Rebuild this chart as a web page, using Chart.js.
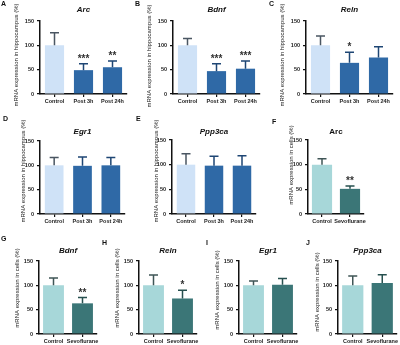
<!DOCTYPE html>
<html>
<head>
<meta charset="utf-8">
<script src="https://cdn.jsdelivr.net/npm/chart.js@4.4.1/dist/chart.umd.min.js"></script>
<style>
  body { margin: 0; width: 400px; height: 345px; background: #fff; position: relative; overflow: hidden; }
  canvas { position: absolute; }
</style>
</head>
<body>
<script>
// groups and axis ticks
const hippoGroups = ['Control', 'Post 3h', 'Post 24h'];
const cellGroups = ['Control', 'Sevoflurane'];
const yTicks = [0, 50, 100, 150];

// hippocampus (A-E)
const arcHippo = [100, 49, 55];
const arcHippoErr = [26, 13, 13];
const arcHippoSig = ['', '***', '**'];
const bdnfHippo = [100, 47, 52];
const bdnfHippoErr = [14, 15, 16];
const bdnfHippoSig = ['', '***', '***'];
const relnHippo = [100, 64, 75];
const relnHippoErr = [19, 22, 22];
const relnHippoSig = ['', '*', ''];
const egr1Hippo = [100, 99, 100];
const egr1HippoErr = [16, 18, 16];
const ppp3caHippo = [100, 98, 98];
const ppp3caHippoErr = [22, 19, 20];

// cells (F-J)
const arcCells = [100, 51];
const arcCellsErr = [12, 6];
const arcCellsSig = ['', '**'];
const bdnfCells = [100, 63];
const bdnfCellsErr = [15, 12];
const bdnfCellsSig = ['', '**'];
const relnCells = [100, 73];
const relnCellsErr = [21, 17];
const relnCellsSig = ['', '*'];
const egr1Cells = [100, 101];
const egr1CellsErr = [9, 13];
const ppp3caCells = [100, 105];
const ppp3caCellsErr = [19, 17];

const hippoTitle = 'mRNA expression in hippocampus (%)';
const cellTitle = 'mRNA expression in cells (%)';

const hippoColors = ['#cfe2f7', '#2f69a6', '#2f69a6'];
const hippoErrColors = ['#4a5662', '#1e4674', '#1e4674'];
const cellColors = ['#a7d7d9', '#3b7677'];
const cellErrColors = ['#3f5556', '#27504f'];

const FONT = '"Liberation Sans", Arial, sans-serif';
Chart.defaults.font.family = FONT;

// error bars, stars, y tick labels, panel letter, title and y title
const panelDecor = {
    id: 'panelDecor',
    afterDraw(chart, args, opts) {
        const ctx = chart.ctx;
        const y = chart.scales.y;
        const values = chart.data.datasets[0].data;
        const meta = chart.getDatasetMeta(0);
        ctx.save();
        meta.data.forEach(function (bar, i) {
            const top = y.getPixelForValue(values[i]);
            const capY = y.getPixelForValue(values[i] + opts.errors[i]);
            ctx.strokeStyle = opts.errColors[i];
            ctx.lineWidth = 1.5;
            ctx.beginPath();
            ctx.moveTo(bar.x, top);
            ctx.lineTo(bar.x, capY);
            ctx.moveTo(bar.x - 4.5, capY);
            ctx.lineTo(bar.x + 4.5, capY);
            ctx.stroke();
            if (opts.stars && opts.stars[i]) {
                ctx.fillStyle = '#333';
                ctx.font = 'bold 10px ' + FONT;
                ctx.textAlign = 'center';
                ctx.textBaseline = 'alphabetic';
                ctx.fillText(opts.stars[i], bar.x, capY - 2);
            }
        });
        // y tick labels
        ctx.fillStyle = '#222';
        ctx.font = 'bold 5.5px ' + FONT;
        ctx.textAlign = 'right';
        ctx.textBaseline = 'middle';
        yTicks.forEach(function (v) {
            ctx.fillText(String(v), y.right - 6, y.getPixelForValue(v));
        });
        const area = chart.chartArea;
        // title
        ctx.fillStyle = '#111';
        ctx.font = (opts.italic ? 'italic ' : '') + 'bold 8px ' + FONT;
        ctx.textAlign = 'center';
        ctx.textBaseline = 'middle';
        ctx.fillText(opts.title, (area.left + area.right) / 2, opts.titleY);
        // panel letter
        ctx.font = 'bold 7px ' + FONT;
        ctx.textAlign = 'left';
        ctx.textBaseline = 'top';
        ctx.fillText(opts.letter, opts.letterX, opts.letterY);
        // y axis title
        ctx.translate(opts.yTitleX, opts.yTitleY);
        ctx.rotate(-Math.PI / 2);
        ctx.font = '6px ' + FONT;
        ctx.fillStyle = '#222';
        ctx.textAlign = 'center';
        ctx.textBaseline = 'middle';
        ctx.fillText(opts.yTitle, 0, 0);
        ctx.restore();
    }
};

// panel layout (canvas position, axis placement)
const panels = [
    { letter: 'A', title: 'Arc', groups: hippoGroups, values: arcHippo, errors: arcHippoErr, stars: arcHippoSig,
      left: 0, top: 0, w: 133, h: 115, yW: 40, padT: 21, padR: 6, xH: 21, titleY: 10, yTitleX: 16, yTitleY: 55, letterX: 1, letterY: 1 },
    { letter: 'B', title: 'Bdnf', groups: hippoGroups, values: bdnfHippo, errors: bdnfHippoErr, stars: bdnfHippoSig,
      left: 133, top: 0, w: 133, h: 115, yW: 40, padT: 21, padR: 6, xH: 21, titleY: 10, yTitleX: 16, yTitleY: 56, letterX: 2, letterY: 1 },
    { letter: 'C', title: 'Reln', groups: hippoGroups, values: relnHippo, errors: relnHippoErr, stars: relnHippoSig,
      left: 266, top: 0, w: 134, h: 115, yW: 40, padT: 21, padR: 7, xH: 21, titleY: 10, yTitleX: 16, yTitleY: 55, letterX: 3, letterY: 1 },
    { letter: 'D', title: 'Egr1', groups: hippoGroups, values: egr1Hippo, errors: egr1HippoErr, stars: null,
      left: 0, top: 115, w: 133, h: 115, yW: 40, padT: 26, padR: 8, xH: 16, titleY: 17, yTitleX: 23, yTitleY: 56, letterX: 3, letterY: 1 },
    { letter: 'E', title: 'Ppp3ca', groups: hippoGroups, values: ppp3caHippo, errors: ppp3caHippoErr, stars: null,
      left: 133, top: 115, w: 133, h: 115, yW: 39, padT: 25, padR: 10, xH: 16, titleY: 17, yTitleX: 23, yTitleY: 56, letterX: 3, letterY: 1 },
    { letter: 'F', title: 'Arc', italic: false, groups: cellGroups, values: arcCells, errors: arcCellsErr, stars: arcCellsSig, cells: true,
      left: 266, top: 115, w: 134, h: 115, yW: 42, padT: 25, padR: 36, xH: 16, titleY: 17, yTitleX: 25, yTitleY: 50, letterX: 6, letterY: 4 },
    { letter: 'G', title: 'Bdnf', groups: cellGroups, values: bdnfCells, errors: bdnfCellsErr, stars: bdnfCellsSig, cells: true,
      left: 0, top: 230, w: 100, h: 115, yW: 39, padT: 31, padR: 3, xH: 11, titleY: 21, yTitleX: 17, yTitleY: 58, letterX: 1, letterY: 6 },
    { letter: 'H', title: 'Reln', groups: cellGroups, values: relnCells, errors: relnCellsErr, stars: relnCellsSig, cells: true,
      left: 100, top: 230, w: 100, h: 115, yW: 39, padT: 31, padR: 3, xH: 11, titleY: 21, yTitleX: 17, yTitleY: 58, letterX: 2, letterY: 10 },
    { letter: 'I', title: 'Egr1', groups: cellGroups, values: egr1Cells, errors: egr1CellsErr, stars: null, cells: true,
      left: 200, top: 230, w: 100, h: 115, yW: 39, padT: 31, padR: 3, xH: 11, titleY: 21, yTitleX: 17, yTitleY: 60, letterX: 6, letterY: 10 },
    { letter: 'J', title: 'Ppp3ca', groups: cellGroups, values: ppp3caCells, errors: ppp3caCellsErr, stars: null, cells: true,
      left: 300, top: 230, w: 100, h: 115, yW: 38, padT: 31, padR: 3, xH: 11, titleY: 21, yTitleX: 17, yTitleY: 62, letterX: 6, letterY: 10 }
];

panels.forEach(function (p) {
    const canvas = document.createElement('canvas');
    canvas.width = p.w;
    canvas.height = p.h;
    canvas.style.left = p.left + 'px';
    canvas.style.top = p.top + 'px';
    document.body.appendChild(canvas);

    const colors = p.cells ? cellColors : hippoColors;
    const errColors = p.cells ? cellErrColors : hippoErrColors;

    new Chart(canvas, {
        type: 'bar',
        data: {
            labels: p.groups,
            datasets: [{
                data: p.values,
                backgroundColor: colors,
                borderWidth: 0,
                barPercentage: p.cells ? 0.72 : 0.66,
                categoryPercentage: 1
            }]
        },
        options: {
            responsive: false,
            animation: false,
            devicePixelRatio: 1,
            layout: { padding: { left: 0, right: p.padR, top: p.padT, bottom: 0 } },
            plugins: {
                legend: { display: false },
                tooltip: { enabled: false },
                panelDecor: {
                    letter: p.letter, letterX: p.letterX, letterY: p.letterY,
                    title: p.title, titleY: p.titleY, italic: p.italic !== false,
                    yTitle: p.cells ? cellTitle : hippoTitle, yTitleX: p.yTitleX, yTitleY: p.yTitleY,
                    errors: p.errors, stars: p.stars, errColors: errColors
                }
            },
            scales: {
                x: {
                    grid: { display: true, drawOnChartArea: false, drawTicks: true, tickLength: 3, color: '#111', lineWidth: 1.2, offset: false },
                    border: { display: true, color: '#111', width: 1.5 },
                    ticks: { font: { size: 5.5, weight: 'bold' }, color: '#222', padding: 1, maxRotation: 0, autoSkip: false },
                    afterFit: function (s) { s.height = p.xH; }
                },
                y: {
                    min: yTicks[0],
                    max: yTicks[yTicks.length - 1],
                    grid: { display: true, drawOnChartArea: false, drawTicks: true, tickLength: 3, color: '#111', lineWidth: 1.2 },
                    border: { display: true, color: '#111', width: 1.5 },
                    ticks: { stepSize: yTicks[1] - yTicks[0], display: false },
                    afterFit: function (s) { s.width = p.yW; }
                }
            }
        },
        plugins: [panelDecor]
    });
});
</script>
</body>
</html>
